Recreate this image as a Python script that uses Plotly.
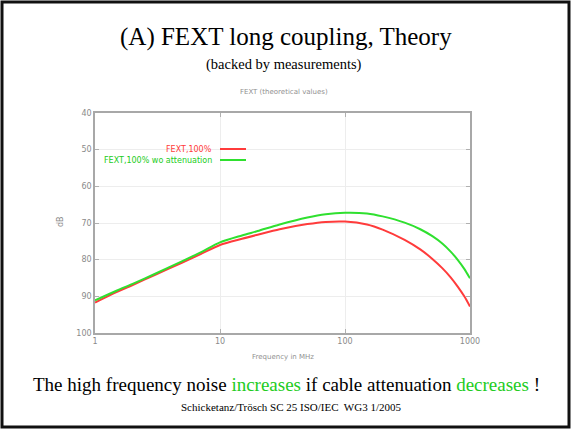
import plotly.graph_objects as go

# ---- data ----
freq_mhz = [1, 1.5, 2, 3, 5, 7, 10, 15, 20, 30, 50, 70, 100, 150, 200, 300, 400, 500, 600, 700, 800, 900, 1000]
fext_100 = [91.7, 88.8, 86.9, 84.2, 80.8, 78.5, 76.0, 74.3, 73.2, 71.7, 70.3, 69.7, 69.6, 70.4, 71.8, 74.6,
             77.2, 79.8, 82.3, 84.8, 87.4, 90.0, 92.8]
fext_wo_att = [91.1, 88.4, 86.6, 83.9, 80.4, 78.0, 75.3, 73.4, 72.2, 70.4, 68.5, 67.6, 67.2, 67.4, 68.2, 69.9,
               71.7, 73.6, 75.6, 77.8, 80.1, 82.5, 85.1]
x_ticks = [1, 10, 100, 1000]
x_tick_labels = ["1", "10", "100", "1000"]
y_ticks = [40, 50, 60, 70, 80, 90, 100]
series_names = ["FEXT,100%", "FEXT,100% wo attenuation"]

# ---- layout geometry (pixels) ----
W, H = 572, 430
L, R, T, B = 95, 470, 113, 333


def px(x):
    return (x - L) / (R - L)


def py(y):
    return (B - y) / (B - T)


RED = "#ff3b3b"
GREEN = "#2fe02f"
TXT_GREEN = "#22cc22"
GRAY = "#8a8a8a"

fig = go.Figure()
fig.add_trace(go.Scatter(x=freq_mhz, y=fext_100, mode="lines", name=series_names[0],
                         line=dict(color=RED, width=2, shape="spline", smoothing=0.8), showlegend=False))
fig.add_trace(go.Scatter(x=freq_mhz, y=fext_wo_att, mode="lines", name=series_names[1],
                         line=dict(color=GREEN, width=2, shape="spline", smoothing=0.8), showlegend=False))

axis_common = dict(showline=True, linecolor="#a8a8a8", linewidth=1.5, mirror="ticks",
                   showgrid=True, gridcolor="#ededed", gridwidth=1, zeroline=False,
                   ticks="inside", ticklen=4, tickcolor="#b0b0b0",
                   tickfont=dict(family="DejaVu Sans", size=8, color=GRAY))

fig.update_xaxes(type="log", range=[0, 3], tickvals=x_ticks, ticktext=x_tick_labels, **axis_common)
fig.update_yaxes(range=[100, 40], tickvals=y_ticks, ticktext=[str(v) for v in y_ticks], **axis_common)

anns = []
# slide titles
anns.append(dict(x=px(286), y=py(37), text="(A) FEXT long coupling, Theory",
                 font=dict(family="Liberation Serif", size=25, color="#000000")))
anns.append(dict(x=px(284), y=py(65), text="(backed by measurements)",
                 font=dict(family="Liberation Serif", size=14.5, color="#000000")))
# chart title
anns.append(dict(x=px(284), y=py(92), text="FEXT (theoretical values)",
                 font=dict(family="DejaVu Sans", size=7, color="#909090")))
# axis titles
anns.append(dict(x=px(60), y=py(222), text="dB", textangle=-90,
                 font=dict(family="DejaVu Sans", size=8, color=GRAY)))
anns.append(dict(x=px(283), y=py(357), text="Frequency in MHz",
                 font=dict(family="DejaVu Sans", size=7, color="#909090")))
# legend
anns.append(dict(x=px(214), y=py(149), text=series_names[0], xanchor="right",
                 font=dict(family="DejaVu Sans", size=8, color=RED)))
anns.append(dict(x=px(214), y=py(160), text=series_names[1], xanchor="right",
                 font=dict(family="DejaVu Sans", size=8, color=TXT_GREEN)))
# bottom statement
anns.append(dict(x=px(286), y=py(384),
                 text=("The high frequency noise <span style='color:%s'>increases</span> if cable attenuation "
                       "<span style='color:%s'>decreases</span> !") % (TXT_GREEN, TXT_GREEN),
                 font=dict(family="Liberation Serif", size=19, color="#000000")))
anns.append(dict(x=px(291), y=py(407), text="Schicketanz/Trösch SC 25 ISO/IEC  WG3 1/2005",
                 font=dict(family="Liberation Serif", size=11, color="#000000")))

for a in anns:
    a.setdefault("xanchor", "center")
    a.setdefault("yanchor", "middle")
    a.update(xref="paper", yref="paper", showarrow=False)

shapes = [
    # slide border
    dict(type="rect", xref="paper", yref="paper", x0=px(2), x1=px(569), y0=py(2), y1=py(427),
         line=dict(color="#111111", width=3), fillcolor="rgba(0,0,0,0)", layer="below"),
    # legend samples
    dict(type="line", xref="paper", yref="paper", x0=px(220), x1=px(246), y0=py(149), y1=py(149),
         line=dict(color=RED, width=2)),
    dict(type="line", xref="paper", yref="paper", x0=px(220), x1=px(246), y0=py(160), y1=py(160),
         line=dict(color=GREEN, width=2)),
]

fig.update_layout(width=W, height=H, margin=dict(l=L, r=W - R, t=T, b=H - B),
                  paper_bgcolor="white", plot_bgcolor="white",
                  annotations=anns, shapes=shapes, showlegend=False)

fig.write_html("out.html", config={"displayModeBar": False},
               post_script="document.body.style.margin='0px';")
